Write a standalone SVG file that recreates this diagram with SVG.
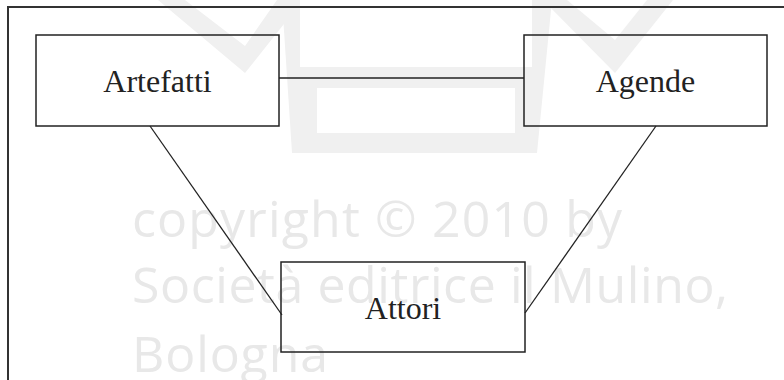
<svg xmlns="http://www.w3.org/2000/svg" width="784" height="380" viewBox="0 0 784 380">
  <style>
    .frame { fill: none; stroke: #333; stroke-width: 2; }
    .box { fill: none; stroke: #222; stroke-width: 1.5; }
    .edge { fill: none; stroke: #222; stroke-width: 1.3; }
    .label { font-family: "Liberation Serif", "Times New Roman", serif; font-size: 32px; fill: #222; text-anchor: middle; }
    .mark { font-family: "Open Sans", "Liberation Sans", sans-serif; font-size: 50px; fill: #e8e8e8; }
    .logo { fill: #f0f0f0; }
  </style>

  <rect width="784" height="380" fill="#fff"/>

  <!-- publisher mark in the background -->
  <g id="watermark">
    <g class="logo">
      <polygon points="158,0 185,0 245,46 277,0 303,0 245,73"/>
      <polygon points="543,0 567,0 615,40 647,0 673,0 615,73"/>
      <polygon points="282,0 306,0 317,67 515,67 528,0 552,0 537,153 292,153"/>
    </g>
    <rect x="317" y="88" width="198" height="45" fill="#fff"/>
    <rect x="300" y="0" width="232" height="67" fill="#fff"/>
    <text class="mark" x="132" y="237" textLength="490" lengthAdjust="spacing">copyright © 2010 by</text>
    <text class="mark" x="132" y="303" textLength="596" lengthAdjust="spacing">Società editrice il Mulino,</text>
    <text class="mark" x="132" y="372" textLength="196" lengthAdjust="spacing">Bologna</text>
  </g>

  <rect class="frame" x="8" y="7" width="800" height="400"/>

  <g id="connectors">
    <line class="edge" x1="279" y1="78" x2="524" y2="78"/>
    <line class="edge" x1="150" y1="126" x2="282" y2="315"/>
    <line class="edge" x1="656" y1="126" x2="525" y2="313"/>
  </g>

  <g id="artefatti">
    <rect class="box" x="36" y="35" width="243" height="91"/>
    <text class="label" x="157.5" y="92">Artefatti</text>
  </g>

  <g id="agende">
    <rect class="box" x="524" y="35" width="243" height="91"/>
    <text class="label" x="645.5" y="92">Agende</text>
  </g>

  <g id="attori">
    <rect class="box" x="281" y="262" width="244" height="90"/>
    <text class="label" x="403" y="319">Attori</text>
  </g>
</svg>
